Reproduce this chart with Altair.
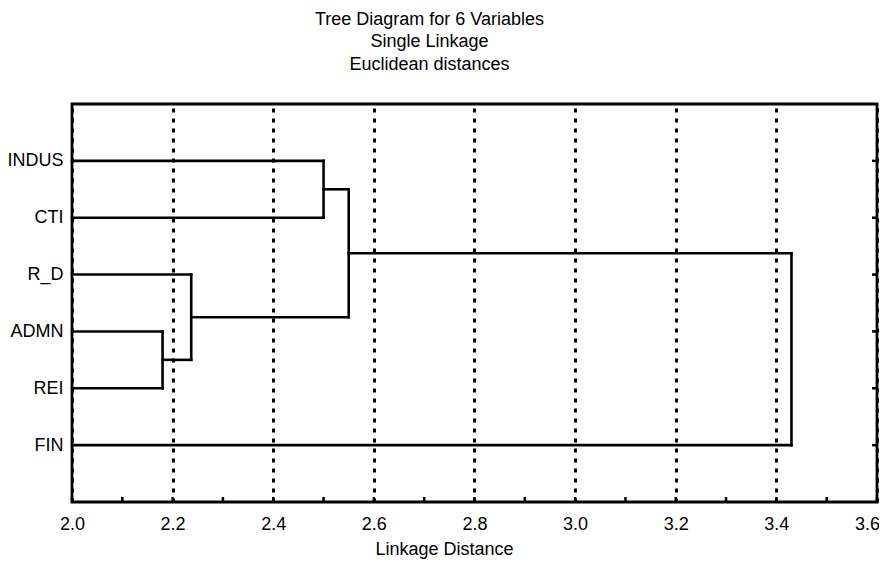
import altair as alt
import pandas as pd

# ---- data ----
leaves = ["INDUS", "CTI", "R_D", "ADMN", "REI", "FIN"]
merge_a = ["ADMN", "R_D", "INDUS", "C3", "C4"]
merge_b = ["REI", "C1", "CTI", "C2", "FIN"]
merge_h = [2.18, 2.237, 2.50, 2.55, 3.43]
major_ticks = [2.0, 2.2, 2.4, 2.6, 2.8, 3.0, 3.2, 3.4, 3.6]
minor_ticks = [2.0, 2.1, 2.2, 2.3, 2.4, 2.5, 2.6, 2.7, 2.8, 2.9, 3.0,
               3.1, 3.2, 3.3, 3.4, 3.5, 3.6]
base_dist = 2.0

# ---- build dendrogram segments ----
pos = {name: i + 1 for i, name in enumerate(leaves)}
hgt = {name: base_dist for name in leaves}
segs = []
for i, (a, b, h) in enumerate(zip(merge_a, merge_b, merge_h)):
    for c in (a, b):
        segs.append(dict(x=hgt[c], x2=h, y=pos[c], y2=pos[c]))
    segs.append(dict(x=h, x2=h, y=pos[a], y2=pos[b]))
    name = f"C{i+1}"
    pos[name] = (pos[a] + pos[b]) / 2
    hgt[name] = h
seg_df = pd.DataFrame(segs)

W, H = 805, 398
FONT = "Liberation Sans"
FS = 18

label_arr = "[''," + ",".join(f"'{n}'" for n in leaves) + "]"

xscale = alt.Scale(domain=[2.0, 3.6], nice=False, zero=False)
yscale = alt.Scale(domain=[0, 7], reverse=True, nice=False, zero=False)

xaxis = alt.Axis(values=major_ticks, format=".1f", title="Linkage Distance",
                 grid=True, gridColor="black", gridDash=[4, 6], gridWidth=3,
                 gridOpacity=1, domain=False, ticks=False,
                 labelFont=FONT, labelFontSize=FS, labelColor="black",
                 labelPadding=13, labelFlush=False,
                 labelOffset={"condition": {"test": f"datum.value >= {major_ticks[-1] - 0.01}",
                                            "value": -10}, "value": 0},
                 titleFont=FONT, titleFontSize=FS, titleFontWeight="normal",
                 titleColor="black", titleX=372, titleY=52,
                 titleBaseline="alphabetic", titleAlign="center")
yaxis = alt.Axis(values=list(range(1, len(leaves) + 1)),
                 labelExpr=label_arr + "[datum.value]",
                 grid=False, domain=False, ticks=False, title=None,
                 labelFont=FONT, labelFontSize=FS, labelColor="black",
                 labelPadding=9, labelFlush=False)

dendro = alt.Chart(seg_df).mark_rule(color="black", strokeWidth=2.6, strokeCap="square").encode(
    x=alt.X("x:Q", scale=xscale, axis=xaxis),
    x2="x2:Q",
    y=alt.Y("y:Q", scale=yscale, axis=yaxis),
    y2="y2:Q",
)

bottom_ticks = alt.Chart(pd.DataFrame({"x": minor_ticks})).mark_rule(
    color="black", strokeWidth=2.5).encode(
    x=alt.X("x:Q", scale=xscale, axis=xaxis),
    y=alt.value(H), y2=alt.value(H - 5),
)

right_ticks = alt.Chart(pd.DataFrame({"y": list(range(1, len(leaves) + 1))})).mark_rule(
    color="black", strokeWidth=2.5).encode(
    y=alt.Y("y:Q", scale=yscale, axis=yaxis),
    x=alt.value(W), x2=alt.value(W - 5),
)

chart = alt.layer(dendro, bottom_ticks, right_ticks).properties(
    width=W, height=H,
    title=alt.TitleParams(
        text=["Tree Diagram for 6 Variables", "Single Linkage", "Euclidean distances"],
        font=FONT, fontSize=FS, fontWeight="normal", color="black",
        lineHeight=22.5, anchor="middle", dx=-45, offset=30.5, frame="group"),
    autosize=alt.AutoSizeParams(type="none"),
    padding={"left": 64, "top": 96, "right": 2, "bottom": 57},
    background="white",
).configure_view(stroke="black", strokeWidth=2.8)

chart.save("out.html", embed_options={"renderer": "svg", "actions": False})
